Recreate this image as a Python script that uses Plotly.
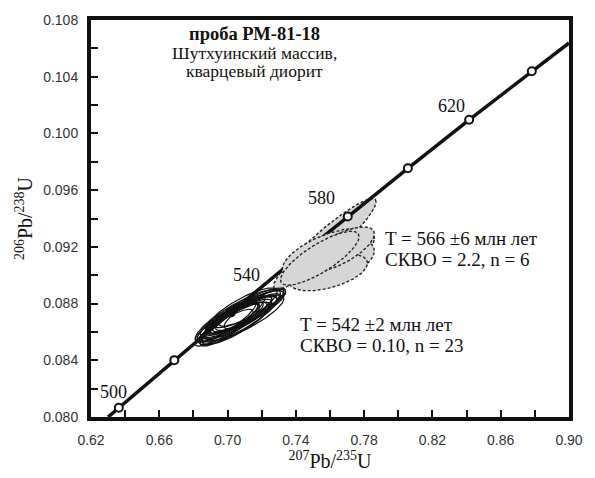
import numpy as np
import plotly.graph_objects as go

# ---------------- data ----------------
# concordia line (207Pb/235U, 206Pb/238U), from lower edge to right edge
conc_x = [0.6300, 0.6363, 0.6688, 0.7020, 0.7359, 0.7704, 0.8056, 0.8415, 0.8782, 0.9000]
conc_y = [0.08000, 0.08065, 0.08401, 0.08738, 0.09076, 0.09414, 0.09754, 0.10096, 0.10438, 0.10638]
# age markers on concordia (Ma)
mark_age = [500, 520, 540, 560, 580, 600, 620, 640]
mark_x = [0.6363, 0.6688, 0.7020, 0.7359, 0.7704, 0.8056, 0.8415, 0.8782]
mark_y = [0.08065, 0.08401, 0.08738, 0.09076, 0.09414, 0.09754, 0.10096, 0.10438]
label_ages = ["500", "540", "580", "620"]

# black ellipses (n = 23): centre, 2-sigma half-widths, error correlation
blk_cx = [0.700, 0.704, 0.707, 0.702, 0.709, 0.712, 0.699, 0.705, 0.710, 0.714, 0.701, 0.706,
          0.708, 0.703, 0.711, 0.716, 0.698, 0.705, 0.713, 0.707, 0.704, 0.710, 0.702]
blk_cy = [0.0867, 0.0866, 0.0872, 0.0866, 0.0874, 0.0874, 0.0868, 0.0871, 0.0870, 0.0877, 0.0865, 0.0869,
          0.0875, 0.0868, 0.0874, 0.0876, 0.0863, 0.0866, 0.0877, 0.0869, 0.0871, 0.0873, 0.0867]
blk_sx = [0.018, 0.021, 0.019, 0.017, 0.022, 0.019, 0.018, 0.021, 0.023, 0.019, 0.017, 0.020,
          0.021, 0.018, 0.022, 0.018, 0.017, 0.020, 0.021, 0.022, 0.018, 0.019, 0.021]
blk_sy = [0.0014, 0.0015, 0.0013, 0.0014, 0.0016, 0.0013, 0.0015, 0.0014, 0.0016, 0.0013, 0.0015, 0.0014,
          0.0016, 0.0013, 0.0015, 0.0014, 0.0013, 0.0015, 0.0014, 0.0016, 0.0015, 0.0013, 0.0014]
blk_rho = [0.86, 0.84, 0.88, 0.85, 0.83, 0.87, 0.85, 0.86, 0.84, 0.88, 0.86, 0.85,
           0.83, 0.87, 0.85, 0.86, 0.88, 0.84, 0.86, 0.85, 0.87, 0.84, 0.86]

# grey ellipses (n = 6)
gry_cx = [0.757, 0.759, 0.761, 0.759, 0.765, 0.754]
gry_cy = [0.0922, 0.0915, 0.0908, 0.0902, 0.0918, 0.0912]
gry_sx = [0.030, 0.027, 0.025, 0.023, 0.021, 0.023]
gry_sy = [0.0032, 0.0018, 0.0017, 0.0013, 0.0016, 0.0019]
gry_rho = [0.93, 0.60, 0.55, 0.50, 0.70, 0.80]

SERIF = "Liberation Serif"
SANS = "Liberation Sans"
INK = "#111111"


def ellipse(cx, cy, sx, sy, rho, n=160):
    t = np.linspace(0, 2 * np.pi, n)
    x = cx + sx * np.cos(t)
    y = cy + sy * (rho * np.cos(t) + np.sqrt(1 - rho ** 2) * np.sin(t))
    return x, y


fig = go.Figure()


def add_grey(i):
    x, y = ellipse(gry_cx[i], gry_cy[i], gry_sx[i], gry_sy[i], gry_rho[i])
    fig.add_trace(go.Scatter(x=x, y=y, mode="lines", fill="toself", fillcolor="#d6d6d6",
                             line=dict(color="#222222", width=1.4, dash="3px,2px"),
                             hoverinfo="skip", showlegend=False))


# the long grey ellipse lies below the concordia line
add_grey(0)

fig.add_trace(go.Scatter(x=conc_x, y=conc_y, mode="lines",
                         line=dict(color=INK, width=3.5),
                         hoverinfo="skip", showlegend=False))
fig.add_trace(go.Scatter(x=mark_x, y=mark_y, mode="markers", text=mark_age,
                         marker=dict(size=8, color="white", line=dict(color=INK, width=2)),
                         hoverinfo="text", showlegend=False))

for i in range(1, len(gry_cx)):
    add_grey(i)

for i in range(len(blk_cx)):
    x, y = ellipse(blk_cx[i], blk_cy[i], blk_sx[i], blk_sy[i], blk_rho[i])
    fig.add_trace(go.Scatter(x=x, y=y, mode="lines",
                             line=dict(color=INK, width=1.2),
                             hoverinfo="skip", showlegend=False))

annotations = []
# age labels next to concordia points
label_shift = {"500": (-5, 16), "540": (16, 37), "580": (-26, 19), "620": (-18, 14)}
for a in label_ages:
    k = mark_age.index(int(a))
    dx, dy = label_shift[a]
    annotations.append(dict(x=mark_x[k], y=mark_y[k], text=a, showarrow=False,
                            xshift=dx, yshift=dy, font=dict(family=SERIF, size=18, color=INK)))

# sample title block
annotations += [
    dict(x=0.7160, y=0.10700, text="<b>проба РМ-81-18</b>", showarrow=False,
         font=dict(family=SERIF, size=18.5, color=INK)),
    dict(x=0.7160, y=0.10568, text="Шутхуинский массив,", showarrow=False,
         font=dict(family=SERIF, size=17.5, color=INK)),
    dict(x=0.7160, y=0.10443, text="кварцевый диорит", showarrow=False,
         font=dict(family=SERIF, size=17.5, color=INK)),
]
# age results
for txt, x, y in [("T = 566 ±6 млн лет", 0.7910, 0.09262),
                  ("СКВО = 2.2, n = 6", 0.7910, 0.09108),
                  ("T = 542 ±2 млн лет", 0.7410, 0.08655),
                  ("СКВО = 0.10, n = 23", 0.7410, 0.08505)]:
    annotations.append(dict(x=x, y=y, text=txt, showarrow=False, xanchor="left",
                            font=dict(family=SERIF, size=19, color=INK)))

axis_common = dict(
    showgrid=False, zeroline=False, showline=True, linewidth=4, linecolor=INK,
    mirror=True, ticks="inside", ticklen=7, tickwidth=1.5, tickcolor=INK,
    tickfont=dict(family=SANS, size=14, color="#333333"),
)

fig.update_layout(
    width=595, height=478,
    margin=dict(l=91, r=15, t=15, b=60),
    paper_bgcolor="white", plot_bgcolor="white",
    annotations=annotations,
    xaxis=dict(range=[0.62, 0.90], tick0=0.62, dtick=0.04, tickformat=".2f",
               minor=dict(ticks="inside", ticklen=7, tickwidth=1.5, tickcolor=INK,
                          tick0=0.62, dtick=0.02),
               ticklabelstandoff=7,
               title=dict(text="<sup>207</sup>Pb/<sup>235</sup>U", standoff=4,
                          font=dict(family=SERIF, size=20, color=INK)),
               **axis_common),
    yaxis=dict(range=[0.080, 0.108], tick0=0.080, dtick=0.004, tickformat=".3f",
               minor=dict(ticks="inside", ticklen=7, tickwidth=1.5, tickcolor=INK,
                          tick0=0.080, dtick=0.002),
               ticklabelstandoff=6,
               title=dict(text="<sup>206</sup>Pb/<sup>238</sup>U", standoff=6,
                          font=dict(family=SERIF, size=20, color=INK)),
               **axis_common),
)

# remove the page's default 8 px body margin so the figure fills the window exactly
fig.write_html("out.html", config={"displayModeBar": False},
               post_script="document.body.style.margin='0';")
